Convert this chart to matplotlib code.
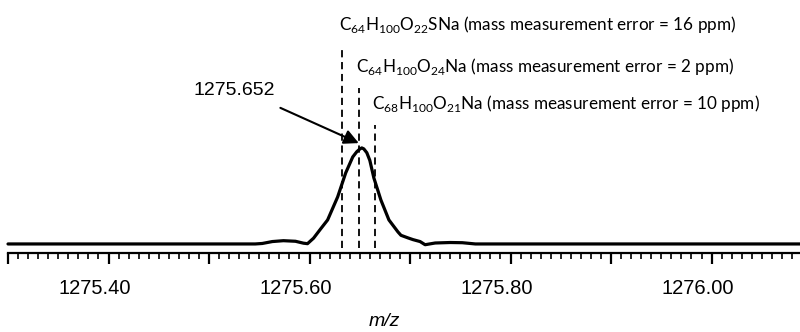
import matplotlib
matplotlib.use("Agg")
import matplotlib.pyplot as plt
import matplotlib.transforms as mtransforms

# spectrum trace (m/z, relative intensity)
mz = [1275.300, 1275.546, 1275.553, 1275.563, 1275.574, 1275.586, 1275.594,
      1275.598, 1275.604, 1275.611, 1275.618, 1275.628, 1275.636, 1275.643,
      1275.647, 1275.650, 1275.652, 1275.654, 1275.657, 1275.660, 1275.664,
      1275.671, 1275.679, 1275.688, 1275.691, 1275.698, 1275.703, 1275.710,
      1275.715, 1275.725, 1275.740, 1275.752, 1275.765, 1276.088]
intensity = [0, 0, 0.5, 2.5, 3.4, 2.8, 0.8,
             0.3, 6, 15.6, 25, 49, 74, 90.6,
             96, 98.8, 100, 99, 95, 87, 68.8,
             45.8, 25, 12.5, 9, 6.3, 4.5, 2.5,
             -0.8, 1, 1.5, 1.3, 0, 0]

peak_mz = 1275.652

# candidate formulas: theoretical m/z, label, error
formulas = [r"C$_{64}$H$_{100}$O$_{22}$SNa", r"C$_{64}$H$_{100}$O$_{24}$Na", r"C$_{68}$H$_{100}$O$_{21}$Na"]
theo_mz = [1275.632, 1275.6495, 1275.665]
errors_ppm = [16, 2, 10]

major_ticks = [1275.3, 1275.4, 1275.5, 1275.6, 1275.7, 1275.8, 1275.9, 1276.0]
tick_labels = ["", "1275.40", "", "1275.60", "", "1275.80", "", "1276.00"]
minor_ticks = [1275.30 + i * 0.01 for i in range(79)]

plt.rcParams["mathtext.fontset"] = "custom"
plt.rcParams["mathtext.rm"] = "Lato"

fig = plt.figure(figsize=(8, 3.32), dpi=100)
ax = fig.add_axes([0.01, 0.238, 0.99, 0.762])

ax.plot(mz, intensity, color="black", lw=2.3, clip_on=False,
        solid_joinstyle="round", solid_capstyle="round")

# dashed lines + formula labels
line_tops = [202, 162.5, 124]
text_y = [223, 179, 140]
for m, lab, err, top, ty in zip(theo_mz, formulas, errors_ppm, line_tops, text_y):
    ax.plot([m, m], [-4.2, top], color="black", lw=1.3, dashes=(4, 2.6), clip_on=False)
    ax.text(m, ty, lab + " (mass measurement error = %d ppm)" % err,
            fontfamily="Lato", fontsize=12.3, ha="left", va="baseline",
            transform=ax.transData + mtransforms.ScaledTranslation(-0.03, 0, fig.dpi_scale_trans))

# peak label + arrow
ax.text(1275.4846, 159.4, "%.3f" % peak_mz, fontfamily="Liberation Sans", fontsize=14,
        ha="left", va="center")
ax.annotate("", xy=(peak_mz - 0.003, 105), xytext=(1275.571, 141.7),
            arrowprops=dict(arrowstyle="-|>", color="black", lw=1.5, mutation_scale=22,
                            shrinkA=0, shrinkB=0))

ax.set_xlim(1275.30, 1276.088)
ax.set_ylim(-9.4, 254)

ax.set_xticks(major_ticks)
ax.set_xticklabels(tick_labels, fontfamily="Liberation Sans", fontsize=14.5)
ax.set_xticks(minor_ticks, minor=True)
ax.tick_params(axis="x", which="major", length=8, width=1.6, pad=11)
ax.tick_params(axis="x", which="minor", length=4.5, width=1.2)
offset = mtransforms.ScaledTranslation(-0.14, 0, fig.dpi_scale_trans)
for lbl in ax.get_xticklabels():
    lbl.set_transform(lbl.get_transform() + offset)

ax.set_yticks([])
for s in ["left", "right", "top"]:
    ax.spines[s].set_visible(False)
ax.spines["bottom"].set_linewidth(1.6)
ax.patch.set_visible(False)

fig.text(384 / 800, 1 - 322 / 332, "m/z", fontfamily="Liberation Sans", fontstyle="italic",
         fontsize=14, ha="center", va="center")

fig.savefig("out.png", dpi=100)
